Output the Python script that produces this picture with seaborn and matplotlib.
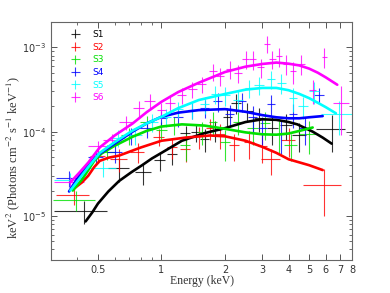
import matplotlib
matplotlib.use("Agg")
import matplotlib.pyplot as plt
from matplotlib.ticker import FixedLocator, NullFormatter, FixedFormatter, LogLocator
import numpy as np
import pandas as pd
import seaborn as sns

###########
# Data    #
###########
names = ['S1', 'S2', 'S3', 'S4', 'S5', 'S6']
colors = ['black', 'red', '#00e000', 'blue', 'cyan', 'magenta']

# data points: energy (keV), half-width (keV), flux, flux error
s1_e = [0.43, 0.63, 0.82, 0.98, 1.12, 1.3, 1.45, 1.6, 1.8, 2.05, 2.25, 2.55, 2.9, 3.35, 3.9, 4.5, 6.4]
s1_de = [0.12, 0.07, 0.07, 0.06, 0.06, 0.07, 0.07, 0.08, 0.1, 0.1, 0.12, 0.15, 0.15, 0.2, 0.25, 0.35, 1.0]
s1_f = [1.15e-5, 3.7e-5, 3.3e-5, 4.6e-5, 5.4e-5, 9.6e-5, 9.8e-5, 8.2e-5, 1.05e-4, 1.5e-4, 2.2e-4,
        1.75e-4, 1.45e-4, 1.1e-4, 1.2e-4, 9.2e-5, 1.07e-4]
s1_df = [3.5e-6, 1.2e-5, 1e-5, 1.2e-5, 1.4e-5, 2e-5, 2.2e-5, 2.5e-5, 3e-5, 4e-5, 6e-5,
         4.5e-5, 4.5e-5, 4e-5, 4e-5, 3.5e-5, 5e-5]

s2_e = [0.385, 0.5, 0.63, 0.77, 0.97, 1.12, 1.3, 1.5, 1.7, 1.9, 2.2, 2.6, 3.0, 3.3, 4.0, 5.9]
s2_de = [0.07, 0.04, 0.06, 0.06, 0.06, 0.06, 0.07, 0.08, 0.08, 0.1, 0.12, 0.15, 0.15, 0.35, 0.3, 1.2]
s2_f = [1.75e-5, 5.2e-5, 4.8e-5, 5.8e-5, 8.7e-5, 6.5e-5, 6.2e-5, 8.8e-5, 1.1e-4, 9.3e-5, 7e-5,
        7.5e-5, 6.8e-5, 4.7e-5, 8.0e-5, 2.3e-5]
s2_df = [4e-6, 1e-5, 1.5e-5, 1.5e-5, 2e-5, 1.8e-5, 1.8e-5, 2.5e-5, 3e-5, 3e-5, 2.5e-5,
         2.8e-5, 2.5e-5, 1.6e-5, 3e-5, 1.3e-5]

s3_e = [0.395, 0.55, 0.7, 0.85, 1.0, 1.15, 1.3, 1.55, 1.75, 2.0, 2.3, 2.7, 3.1, 3.6, 4.1, 5.0]
s3_de = [0.09, 0.05, 0.06, 0.06, 0.06, 0.06, 0.07, 0.08, 0.08, 0.1, 0.12, 0.15, 0.18, 0.2, 0.3, 0.5]
s3_f = [1.55e-5, 5.8e-5, 9e-5, 1.3e-4, 1.05e-4, 1.2e-4, 7e-5, 1e-4, 1.3e-4, 7.5e-5, 1.3e-4,
        1.1e-4, 1.25e-4, 9.5e-5, 7e-5, 9.5e-5]
s3_df = [4e-6, 1.2e-5, 2e-5, 2.5e-5, 2.5e-5, 3e-5, 2.5e-5, 3e-5, 4e-5, 3e-5, 4e-5,
         4e-5, 4.5e-5, 4e-5, 2.5e-5, 4e-5]

s4_e = [0.365, 0.49, 0.6, 0.72, 0.85, 1.0, 1.2, 1.4, 1.6, 1.85, 2.1, 2.4, 2.7, 3.0, 3.3, 3.7, 4.2, 4.8, 5.6]
s4_de = [0.05, 0.04, 0.05, 0.05, 0.06, 0.06, 0.07, 0.07, 0.08, 0.09, 0.1, 0.12, 0.12, 0.15, 0.15, 0.18, 0.2, 0.3, 0.3]
s4_f = [2.8e-5, 5e-5, 5.8e-5, 9e-5, 1.1e-4, 1.45e-4, 1.5e-4, 1.8e-4, 1.9e-4, 2.3e-4, 1.6e-4,
        2.3e-4, 1.5e-4, 1.1e-4, 2.1e-4, 9.5e-5, 1.6e-4, 1.1e-4, 2.7e-4]
s4_df = [6e-6, 1e-5, 1.5e-5, 2e-5, 2.5e-5, 3e-5, 3.5e-5, 4e-5, 4.5e-5, 6e-5, 4.5e-5,
         6e-5, 5e-5, 4e-5, 6e-5, 4e-5, 5e-5, 4e-5, 6e-5]

s5_e = [0.37, 0.53, 0.62, 0.75, 0.9, 1.05, 1.2, 1.4, 1.6, 1.8, 2.0, 2.3, 2.6, 2.9, 3.3, 3.7,
        4.2, 4.7, 5.3, 6.9]
s5_de = [0.06, 0.08, 0.05, 0.06, 0.06, 0.06, 0.07, 0.07, 0.08, 0.09, 0.1, 0.12, 0.12, 0.15,
         0.15, 0.18, 0.2, 0.25, 0.3, 1.2]
s5_f = [2.7e-5, 3.7e-5, 8.5e-5, 9e-5, 1.3e-4, 1.5e-4, 1.85e-4, 1.8e-4, 2.1e-4, 2.8e-4, 2.7e-4,
        2.4e-4, 3.3e-4, 3.6e-4, 4.2e-4, 3.8e-4, 2.5e-4, 2e-4, 3e-4, 1.6e-4]
s5_df = [5e-6, 8e-6, 2e-5, 2e-5, 3e-5, 3.5e-5, 4e-5, 4e-5, 5e-5, 7e-5, 7e-5,
         6e-5, 8e-5, 9e-5, 1e-4, 1e-4, 8e-5, 6e-5, 9e-5, 7e-5]

s6_e = [0.37, 0.5, 0.58, 0.68, 0.78, 0.88, 1.0, 1.1, 1.25, 1.4, 1.55, 1.75, 1.9, 2.1, 2.3,
        2.5, 2.7, 2.95, 3.15, 3.35, 3.6, 3.9, 4.2, 4.6, 5.2, 5.9, 7.1]
s6_de = [0.06, 0.05, 0.05, 0.05, 0.05, 0.05, 0.05, 0.06, 0.06, 0.07, 0.07, 0.08, 0.08, 0.09,
         0.1, 0.1, 0.1, 0.12, 0.1, 0.12, 0.12, 0.15, 0.15, 0.2, 0.2, 0.15, 0.6]
s6_f = [2.5e-5, 6.7e-5, 8e-5, 1.3e-4, 1.9e-4, 2.3e-4, 1.8e-4, 2.2e-4, 2.7e-4, 3.2e-4, 3.7e-4,
        5.2e-4, 4.6e-4, 5.5e-4, 5e-4, 7.3e-4, 7.2e-4, 5.8e-4, 1.1e-3, 7.3e-4, 7.8e-4, 6.4e-4,
        5.2e-4, 6.4e-4, 3.1e-4, 7.7e-4, 2.2e-4]
s6_df = [4e-6, 1e-5, 1.5e-5, 2.5e-5, 4e-5, 5e-5, 4e-5, 5e-5, 6e-5, 7e-5, 8e-5,
         1.2e-4, 1.1e-4, 1.3e-4, 1.2e-4, 1.8e-4, 1.8e-4, 1.5e-4, 2.5e-4, 1.8e-4, 2e-4, 1.7e-4,
         1.5e-4, 1.7e-4, 1e-4, 2e-4, 1.3e-4]

# model curves
m1_e = [0.437, 0.47, 0.5, 0.56, 0.63, 0.72, 0.81, 0.9, 1.0, 1.25, 1.6, 2.0, 2.5, 3.0, 3.5, 4.0, 4.4, 5.2, 5.8, 6.4]
m1_f = [8.6e-6, 1.1e-5, 1.4e-5, 1.95e-5, 2.6e-5, 3.3e-5, 4e-5, 4.8e-5, 5.6e-5, 7.8e-5, 9.6e-5,
        1.1e-4, 1.3e-4, 1.4e-4, 1.38e-4, 1.3e-4, 1.22e-4, 1e-4, 8.5e-5, 7.2e-5]
m2_e = [0.384, 0.42, 0.45, 0.48, 0.51, 0.56, 0.63, 0.8, 1.0, 1.3, 1.7, 2.0, 2.5, 3.0, 3.5, 4.0, 5.0, 5.8]
m2_f = [2.1e-5, 2.5e-5, 3e-5, 3.8e-5, 4.5e-5, 4.9e-5, 5.2e-5, 6.5e-5, 7.8e-5, 8.5e-5, 9e-5,
        8.8e-5, 7.8e-5, 6.6e-5, 5.6e-5, 4.7e-5, 4e-5, 3.5e-5]
m3_e = [0.38, 0.42, 0.45, 0.48, 0.52, 0.6, 0.73, 0.85, 1.0, 1.25, 1.6, 2.0, 2.5, 3.0, 3.5, 4.0, 4.5, 5.2]
m3_f = [2.0e-5, 2.7e-5, 3.5e-5, 4.5e-5, 5.5e-5, 6.8e-5, 8.7e-5, 1.02e-4, 1.15e-4, 1.22e-4,
        1.18e-4, 1.08e-4, 9.8e-5, 9.3e-5, 9.2e-5, 9.5e-5, 1.02e-4, 1.12e-4]
m4_e = [0.365, 0.4, 0.45, 0.5, 0.6, 0.73, 0.85, 1.0, 1.2, 1.5, 2.0, 2.5, 3.0, 3.5, 4.0, 4.5, 5.0, 5.8]
m4_f = [1.95e-5, 2.8e-5, 4e-5, 5.3e-5, 7.2e-5, 1e-4, 1.25e-4, 1.5e-4, 1.68e-4, 1.8e-4, 1.85e-4,
        1.72e-4, 1.57e-4, 1.48e-4, 1.44e-4, 1.44e-4, 1.48e-4, 1.53e-4]
m5_e = [0.37, 0.41, 0.45, 0.51, 0.6, 0.73, 0.85, 1.0, 1.2, 1.5, 2.0, 2.5, 3.0, 3.5, 4.0, 4.5,
        5.0, 5.5, 6.0, 6.7]
m5_f = [2e-5, 2.8e-5, 3.8e-5, 5.6e-5, 7.5e-5, 1.03e-4, 1.25e-4, 1.5e-4, 1.9e-4, 2.37e-4, 2.8e-4,
        3.15e-4, 3.3e-4, 3.3e-4, 3.1e-4, 2.8e-4, 2.5e-4, 2.2e-4, 1.95e-4, 1.65e-4]
m6_e = [0.37, 0.41, 0.45, 0.51, 0.6, 0.73, 0.85, 1.0, 1.2, 1.5, 2.0, 2.5, 3.0, 3.5, 4.0, 4.5,
        5.0, 5.5, 6.0, 6.8]
m6_f = [2.5e-5, 3.3e-5, 4.3e-5, 6.5e-5, 9e-5, 1.25e-4, 1.7e-4, 2.26e-4, 2.95e-4, 3.8e-4, 5.1e-4,
        5.9e-4, 6.35e-4, 6.6e-4, 6.4e-4, 6.1e-4, 5.6e-4, 5e-4, 4.4e-4, 3.6e-4]

x_ticks = [0.5, 1, 2, 3, 4, 5, 6, 7, 8]
x_ticklabels = ['0.5', '1', '2', '3', '4', '5', '6', '7', '8']

#########
# Build #
#########
points = [(s1_e, s1_de, s1_f, s1_df), (s2_e, s2_de, s2_f, s2_df), (s3_e, s3_de, s3_f, s3_df),
          (s4_e, s4_de, s4_f, s4_df), (s5_e, s5_de, s5_f, s5_df), (s6_e, s6_de, s6_f, s6_df)]
models = [(m1_e, m1_f), (m2_e, m2_f), (m3_e, m3_f), (m4_e, m4_f), (m5_e, m5_f), (m6_e, m6_f)]

model_df = pd.concat([pd.DataFrame({'energy': e, 'flux': f, 'src': n})
                      for (e, f), n in zip(models, names)])

sns.set_style('ticks')
plt.rcParams['mathtext.fontset'] = 'stix'

fig = plt.figure(figsize=(3.9, 2.93), dpi=100)
ax = fig.add_axes([0.131, 0.1126, 0.772, 0.8124])

handles = []
for (e, de, f, df), n, c in zip(points, names, colors):
    h = ax.errorbar(e, f, xerr=de, yerr=df, fmt='none', ecolor=c, elinewidth=0.8,
                    alpha=0.8, label=n)
    handles.append(h)

sns.lineplot(data=model_df, x='energy', y='flux', hue='src', palette=colors,
             estimator=None, sort=False, linewidth=1.9, legend=False, ax=ax)

ax.set_xscale('log')
ax.set_yscale('log')
ax.set_xlim(0.3, 8)
ax.set_ylim(3e-6, 2e-3)

ax.xaxis.set_major_locator(FixedLocator(x_ticks))
ax.xaxis.set_major_formatter(FixedFormatter(x_ticklabels))
ax.xaxis.set_minor_locator(FixedLocator([0.3, 0.4, 0.6, 0.7, 0.8, 0.9]))
ax.xaxis.set_minor_formatter(NullFormatter())
ax.yaxis.set_major_locator(LogLocator(base=10, numticks=10))
ax.yaxis.set_minor_locator(LogLocator(base=10, subs=np.arange(2, 10), numticks=10))
ax.yaxis.set_minor_formatter(NullFormatter())

ax.tick_params(which='both', direction='in', top=True, right=True, color='#555555',
               labelsize=7, labelcolor='#333333')
ax.tick_params(which='major', length=4, width=0.7)
ax.tick_params(which='minor', length=2, width=0.6)
for s in ax.spines.values():
    s.set_color('#666666')
    s.set_linewidth(0.8)

ax.set_xlabel('Energy (keV)', family='Liberation Serif', fontsize=8.5, labelpad=0, color='#333333')
ax.set_ylabel(r'keV$^2$ (Photons cm$^{-2}$ s$^{-1}$ keV$^{-1}$)', family='Liberation Serif',
              fontsize=9, color='#333333')
ax.yaxis.set_label_coords(-0.095, 0.43)

leg = ax.legend(handles=handles, labels=names, loc='upper left', frameon=False,
                fontsize=6.5, handlelength=2.2, labelspacing=0.4,
                bbox_to_anchor=(0.02, 1.0))
for t, c in zip(leg.get_texts(), colors):
    t.set_color(c)

fig.savefig('out.png', dpi=100)
